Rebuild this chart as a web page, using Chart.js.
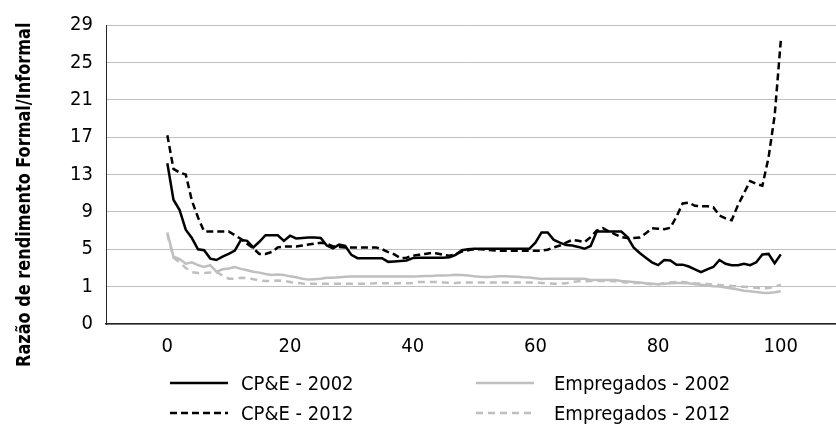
<!DOCTYPE html>
<html>
<head>
<meta charset="utf-8">
<script src="https://cdn.jsdelivr.net/npm/chart.js@4"></script>
<style>
  html, body { margin: 0; padding: 0; background: #fff; }
  #wrap { position: relative; width: 836px; height: 429px; overflow: hidden; font-family: 'Liberation Sans Narrow', 'DejaVu Sans Condensed', 'Roboto', sans-serif; }
  #c { position: absolute; left: 0; top: 0; }
  #ytitle { position: absolute; left: 0; top: 0; white-space: nowrap; font-weight: bold; font-size: 20px; line-height: 20px; color: #000; transform-origin: 0 0; }
  .lg { position: absolute; height: 20px; display: flex; align-items: center; font-size: 20px; color: #000; white-space: nowrap; }
  .lg svg { display: block; }
</style>
</head>
<body>
<div id="wrap">
  <canvas id="c" width="836" height="429"></canvas>
  <div id="ytitle">Razão de rendimento Formal/Informal</div>
  <div id="legend"></div>
</div>
<script>
// Percentile (x) categories
const percentis = [0,1,2,3,4,5,6,7,8,9,10,11,12,13,14,15,16,17,18,19,20,21,22,23,24,25,26,27,28,29,30,31,32,33,34,35,36,37,38,39,40,41,42,43,44,45,46,47,48,49,50,51,52,53,54,55,56,57,58,59,60,61,62,63,64,65,66,67,68,69,70,71,72,73,74,75,76,77,78,79,80,81,82,83,84,85,86,87,88,89,90,91,92,93,94,95,96,97,98,99,100];

// CP&E - 2002
const cpe2002 = [14.2,10.3,9.2,7.1,6.2,5.0,4.9,4.0,3.85,4.2,4.5,4.85,6.0,5.9,5.2,5.8,6.5,6.5,6.5,5.9,6.45,6.15,6.2,6.25,6.25,6.2,5.4,5.1,5.5,5.35,4.4,4.05,4.05,4.05,4.05,4.05,3.65,3.7,3.75,3.8,4.05,4.1,4.1,4.1,4.1,4.1,4.15,4.4,4.9,5.0,5.05,5.05,5.05,5.05,5.05,5.05,5.05,5.05,5.05,5.05,5.7,6.8,6.8,6.0,5.7,5.45,5.4,5.25,5.05,5.35,6.9,6.9,6.9,6.9,6.9,6.3,5.2,4.6,4.1,3.6,3.3,3.85,3.8,3.35,3.35,3.15,2.85,2.55,2.85,3.1,3.85,3.45,3.3,3.3,3.45,3.3,3.6,4.45,4.5,3.5,4.45];

// CP&E - 2012
const cpe2012 = [17.2,13.6,13.2,13.0,10.2,8.4,6.9,6.9,6.9,6.9,6.9,6.5,6.1,5.6,5.1,4.5,4.5,4.7,5.2,5.3,5.3,5.3,5.4,5.5,5.6,5.7,5.6,5.3,5.25,5.2,5.2,5.2,5.2,5.2,5.2,5.0,4.7,4.45,4.05,4.1,4.3,4.4,4.5,4.6,4.55,4.4,4.3,4.45,4.75,4.9,5.0,5.0,4.95,4.9,4.85,4.85,4.85,4.85,4.85,4.85,4.85,4.85,4.95,5.2,5.4,5.7,6.0,5.9,5.75,6.3,7.0,7.25,6.9,6.6,6.3,6.2,6.2,6.25,6.7,7.25,7.2,7.15,7.3,8.5,9.9,10.0,9.65,9.6,9.6,9.5,8.6,8.3,8.1,9.7,11.0,12.3,12.0,11.8,14.8,19.3,27.3];

// Empregados - 2002
const emp2002 = [6.8,4.2,3.95,3.45,3.6,3.3,3.1,3.3,2.6,2.85,2.95,3.1,2.9,2.75,2.6,2.5,2.35,2.25,2.3,2.25,2.1,2.0,1.85,1.75,1.8,1.85,1.95,1.95,2.0,2.05,2.08,2.08,2.08,2.08,2.08,2.08,2.08,2.08,2.08,2.08,2.08,2.1,2.15,2.15,2.18,2.2,2.22,2.27,2.25,2.2,2.1,2.05,2.03,2.05,2.1,2.1,2.08,2.05,2.0,1.98,1.9,1.82,1.85,1.85,1.85,1.85,1.85,1.85,1.85,1.7,1.7,1.7,1.7,1.7,1.6,1.55,1.5,1.45,1.35,1.3,1.25,1.3,1.35,1.38,1.4,1.35,1.25,1.2,1.12,1.05,1.0,0.9,0.8,0.7,0.55,0.5,0.42,0.35,0.33,0.4,0.5];

// Empregados - 2012
const emp2012 = [6.6,4.1,3.6,3.0,2.55,2.45,2.45,2.5,2.55,2.2,1.85,1.85,1.95,1.9,1.8,1.65,1.6,1.6,1.65,1.6,1.5,1.4,1.33,1.3,1.3,1.3,1.3,1.3,1.3,1.3,1.32,1.32,1.32,1.32,1.35,1.35,1.35,1.35,1.35,1.35,1.4,1.5,1.5,1.5,1.5,1.45,1.4,1.4,1.45,1.45,1.45,1.45,1.45,1.45,1.45,1.45,1.45,1.45,1.45,1.45,1.45,1.4,1.35,1.32,1.32,1.35,1.5,1.57,1.58,1.6,1.6,1.6,1.6,1.58,1.5,1.45,1.4,1.38,1.3,1.25,1.25,1.35,1.45,1.5,1.5,1.42,1.35,1.32,1.28,1.22,1.18,1.12,1.07,1.02,0.98,0.95,0.88,0.8,0.85,1.0,1.2];

// Axis tick labels
const xTickValues = [0, 20, 40, 60, 80, 100];
const yTickValues = [-3, 1, 5, 9, 13, 17, 21, 25, 29];
const yTickLabels = ['0', '1', '5', '9', '13', '17', '21', '25', '29'];

const seriesNames = ['CP&E - 2002', 'Empregados - 2002', 'CP&E - 2012', 'Empregados - 2012'];

const FONT = "'Liberation Sans Narrow', 'DejaVu Sans Condensed', 'Roboto', sans-serif";
const pts = arr => arr.map((v, i) => ({ x: percentis[i], y: v }));

const styles = [
  { color: '#000000', dash: [] },
  { color: '#BFBFBF', dash: [] },
  { color: '#000000', dash: [7, 4] },
  { color: '#BFBFBF', dash: [7, 5] }
];
const seriesData = [cpe2002, emp2002, cpe2012, emp2012];
const drawOrder = [3, 1, 2, 0];

const datasets = seriesNames.map((name, k) => ({
  label: name,
  data: pts(seriesData[k]),
  borderColor: styles[k].color,
  borderWidth: 2.5,
  borderDash: styles[k].dash,
  pointRadius: 0,
  tension: 0,
  fill: false,
  order: drawOrder[k]
}));

new Chart(document.getElementById('c'), {
  type: 'line',
  data: { datasets },
  options: {
    responsive: false,
    animation: false,
    devicePixelRatio: 1,
    layout: { padding: { top: 22, right: 0, bottom: 0, left: 0 } },
    plugins: { legend: { display: false }, tooltip: { enabled: false } },
    scales: {
      x: {
        type: 'linear',
        min: -10,
        max: 109,
        grid: { display: false, drawTicks: false },
        border: { display: true, color: '#262626', width: 1.5 },
        afterBuildTicks: s => { s.ticks = xTickValues.map(v => ({ value: v })); },
        afterFit: s => { s.height = 105; },
        ticks: {
          padding: 11,
          color: '#000',
          font: { family: FONT, size: 20 },
          maxRotation: 0,
          autoSkip: false
        }
      },
      y: {
        type: 'linear',
        min: -3,
        max: 29,
        grid: { color: '#BFBFBF', lineWidth: 1, drawTicks: false },
        border: { display: true, color: '#262626', width: 1 },
        afterBuildTicks: s => { s.ticks = yTickValues.map(v => ({ value: v })); },
        afterFit: s => { s.width = 106; },
        ticks: {
          padding: 13,
          color: '#000',
          font: { family: FONT, size: 20 },
          autoSkip: false,
          callback: v => { const i = yTickValues.indexOf(v); return i >= 0 ? yTickLabels[i] : ''; }
        }
      }
    }
  }
});

// Rotated y-axis title: centred at (23, 195), length ~344px
(function () {
  const t = document.getElementById('ytitle');
  const w = t.offsetWidth, h = t.offsetHeight;
  const sx = 344 / w;
  const cx = 23, cy = 195;
  // after rotate(-90): element's width runs upward
  t.style.transform = `translate(${cx - h / 2}px, ${cy + (w * sx) / 2}px) rotate(-90deg) scaleX(${sx})`;
})();

// HTML legend (2 x 2)
const legendPos = [
  { lineX: 170, textX: 241, y: 383 },
  { lineX: 476, textX: 554, y: 383 },
  { lineX: 170, textX: 241, y: 413 },
  { lineX: 476, textX: 554, y: 413 }
];
const lg = document.getElementById('legend');
seriesNames.forEach((name, k) => {
  const p = legendPos[k];
  const sw = document.createElement('div');
  sw.className = 'lg';
  sw.style.left = p.lineX + 'px';
  sw.style.top = (p.y - 10) + 'px';
  const dashAttr = styles[k].dash.length ? ` stroke-dasharray="${styles[k].dash.join(' ')}"` : '';
  sw.innerHTML = `<svg width="58" height="20"><line x1="0" y1="10" x2="58" y2="10" stroke="${styles[k].color}" stroke-width="2.5"${dashAttr}/></svg>`;
  lg.appendChild(sw);
  const tx = document.createElement('div');
  tx.className = 'lg';
  tx.style.left = p.textX + 'px';
  tx.style.top = (p.y - 10) + 'px';
  tx.textContent = name;
  lg.appendChild(tx);
});
</script>
</body>
</html>
